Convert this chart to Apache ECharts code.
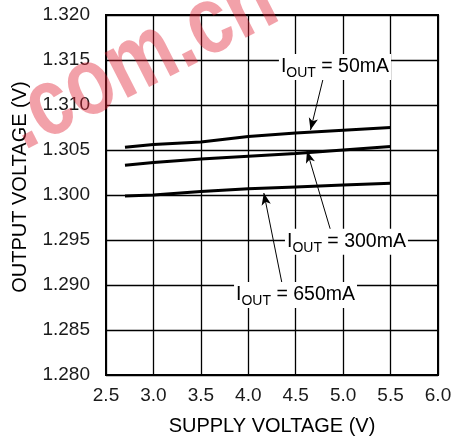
<!DOCTYPE html>
<html>
<head>
<meta charset="utf-8">
<script src="https://cdn.jsdelivr.net/npm/echarts@6/dist/echarts.min.js"></script>
<style>html,body{margin:0;padding:0;background:#fff}#c{width:456px;height:441px}</style>
</head>
<body>
<div id="c"></div>
<script>
// ---- data ----
const supplyVoltage = [2.7, 3.0, 3.5, 4.0, 4.5, 5.0, 5.5];
const vout50mA  = [1.3053, 1.3056, 1.3059, 1.3065, 1.3069, 1.3072, 1.3075];
const vout300mA = [1.3033, 1.3036, 1.3040, 1.3043, 1.3046, 1.3050, 1.3054];
const vout650mA = [1.2999, 1.3000, 1.3004, 1.3007, 1.3009, 1.3011, 1.3013];
const seriesNames = ['50mA', '300mA', '650mA'];
// annotation label anchors [x, y] and arrow [from, to] in data coords
const labelAt = [[4.914, 1.31422], [5.035, 1.29481], [4.498, 1.28889]];
const arrowFrom = [[4.790, 1.31297], [4.867, 1.29611], [4.361, 1.28989]];
const arrowTo   = [[4.656, 1.30722], [4.619, 1.30489], [4.164, 1.30022]];
const xTicks = {min: 2.5, max: 6.0, step: 0.5};
const yTicks = {min: 1.280, max: 1.320, step: 0.005};

const FONT = '"Liberation Sans", Arial, sans-serif';
const allValues = [vout50mA, vout300mA, vout650mA];

const series = seriesNames.map((nm, i) => ({
  type: 'line',
  name: nm,
  data: supplyVoltage.map((x, k) => [x, allValues[i][k]]),
  showSymbol: false,
  symbol: 'none',
  lineStyle: {color: '#000', width: 3},
  z: 3,
  markLine: {
    silent: true,
    symbol: ['none', 'arrow'],
    symbolSize: [7, 12],
    lineStyle: {color: '#000', width: 1, type: 'solid'},
    label: {show: false},
    data: [[{coord: arrowFrom[i]}, {coord: arrowTo[i]}]]
  },
  markPoint: {
    silent: true,
    symbol: 'circle',
    symbolSize: 1,
    itemStyle: {color: 'rgba(0,0,0,0)'},
    label: {
      show: true,
      position: 'inside',
      formatter: '{n|I}{s|OUT}{n| = ' + nm + '}',
      backgroundColor: '#fff',
      padding: [0, 2],
      rich: {
        n: {fontSize: 19.5, lineHeight: 26, color: '#000', fontFamily: FONT},
        s: {fontSize: 14, lineHeight: 14, verticalAlign: 'bottom', color: '#000', fontFamily: FONT}
      }
    },
    data: [{coord: labelAt[i]}]
  }
}));

const chart = echarts.init(document.getElementById('c'), null, {renderer: 'canvas'});
chart.setOption({
  animation: false,
  backgroundColor: '#fff',
  grid: {left: 106, right: 18, top: 15, bottom: 66, show: true, borderColor: '#000', borderWidth: 2, containLabel: false},
  xAxis: {
    type: 'value', min: xTicks.min, max: xTicks.max, interval: xTicks.step,
    name: 'SUPPLY VOLTAGE (V)', nameLocation: 'middle', nameGap: 41,
    nameTextStyle: {fontSize: 20, color: '#000', fontFamily: FONT},
    axisLine: {show: true, lineStyle: {color: '#000', width: 2}},
    axisTick: {show: false},
    axisLabel: {fontSize: 19, color: '#1a1a1a', fontFamily: FONT, margin: 11, formatter: v => v.toFixed(1)},
    splitLine: {show: true, lineStyle: {color: '#000', width: 1.3}}
  },
  yAxis: {
    type: 'value', min: yTicks.min, max: yTicks.max, interval: yTicks.step,
    name: 'OUTPUT VOLTAGE (V)', nameLocation: 'middle', nameGap: 76,
    nameTextStyle: {fontSize: 20, color: '#000', fontFamily: FONT, padding: [0, 0, 0, 16]},
    axisLine: {show: true, lineStyle: {color: '#000', width: 2}},
    axisTick: {show: false},
    axisLabel: {fontSize: 19, color: '#1a1a1a', fontFamily: FONT, margin: 16, formatter: v => v.toFixed(3)},
    splitLine: {show: true, lineStyle: {color: '#000', width: 1.3}}
  },
  graphic: [{
    type: 'text', x: 12, y: 127, rotation: 27 * Math.PI / 180, scaleX: 0.8, z: 100, silent: true,
    style: {text: '.com.cn', font: 'bold 96px ' + FONT, fill: 'rgba(225,30,50,0.42)', align: 'left', verticalAlign: 'middle'}
  }],
  series: series
});
</script>
</body>
</html>
